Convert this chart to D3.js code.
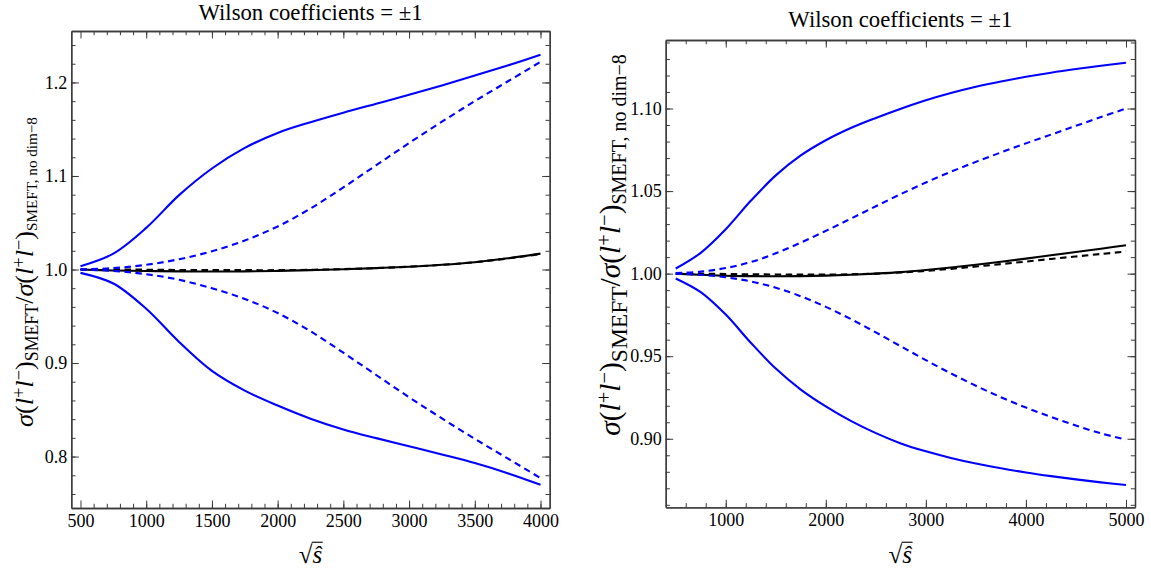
<!DOCTYPE html>
<html><head><meta charset="utf-8">
<script src="https://cdn.jsdelivr.net/npm/d3@7"></script>
<style>
body{margin:0;background:#fff}
svg{display:block}
text{font-family:"Liberation Serif","Times New Roman",serif;fill:#000}
</style>
</head><body>
<svg id="chart" width="1151" height="575"></svg>
<script>
// ---------------- data ----------------
const titleText = "Wilson coefficients = \u00b11";

// Left panel (sqrt(s-hat) from 500 to 4000)
const xLeft = [500,750,1000,1250,1500,1750,2000,2250,2500,2750,3000,3250,3500,3750,4000];
const leftBlueSolidUp   = [1.0035,1.0170,1.0445,1.0795,1.1080,1.1300,1.1460,1.1575,1.1677,1.1772,1.1868,1.1968,1.2073,1.2182,1.2295];
const leftBlueDashUp    = [1.0000,1.0015,1.0050,1.0110,1.0195,1.0310,1.0460,1.0652,1.0878,1.1115,1.1352,1.1580,1.1800,1.2010,1.2220];
const leftBlueSolidDown = [0.9964,0.9850,0.9580,0.9226,0.8916,0.8705,0.8545,0.8405,0.8290,0.8197,0.8110,0.8022,0.7930,0.7822,0.7698];
const leftBlueDashDown  = [1.0000,0.9985,0.9950,0.9890,0.9800,0.9685,0.9535,0.9340,0.9110,0.8872,0.8635,0.8408,0.8190,0.7980,0.7770];
const leftBlackSolid    = [1.0000,0.9990,0.9984,0.9980,0.9978,0.9980,0.9985,0.9993,1.0003,1.0015,1.0030,1.0050,1.0078,1.0120,1.0170];
const leftBlackDash     = [1.0000,1.0000,0.9998,0.9995,0.9993,0.9993,0.9993,0.9997,1.0004,1.0015,1.0030,1.0050,1.0078,1.0118,1.0165];
const leftXTicks = [500,1000,1500,2000,2500,3000,3500,4000];
const leftYTicks = [0.8,0.9,1.0,1.1,1.2];

// Right panel (sqrt(s-hat) from 500 to 5000)
const xRight = [500,750,1000,1250,1500,1750,2000,2250,2500,2750,3000,3250,3500,3750,4000,4250,4500,4750,5000];
const rightBlueSolidUp   = [1.0031,1.0126,1.0269,1.0441,1.0595,1.0716,1.0808,1.0882,1.0943,1.0999,1.1050,1.1094,1.1132,1.1164,1.1192,1.1217,1.1239,1.1259,1.1277];
const rightBlueDashUp    = [1.0003,1.0012,1.0034,1.0070,1.0123,1.0188,1.0259,1.0333,1.0408,1.0482,1.0552,1.0617,1.0677,1.0734,1.0789,1.0842,1.0895,1.0948,1.1000];
const rightBlueSolidDown = [0.9971,0.9888,0.9752,0.9582,0.9425,0.9298,0.9196,0.9108,0.9034,0.8972,0.8924,0.8884,0.8850,0.8821,0.8796,0.8774,0.8754,0.8736,0.8720];
const rightBlueDashDown  = [1.0000,0.9993,0.9978,0.9953,0.9915,0.9863,0.9799,0.9725,0.9644,0.9560,0.9476,0.9396,0.9321,0.9252,0.9189,0.9132,0.9080,0.9033,0.8995];
const rightBlackSolid    = [1.0000,0.9993,0.9987,0.9985,0.9984,0.9985,0.9988,0.9993,1.0000,1.0009,1.0022,1.0037,1.0054,1.0072,1.0091,1.0111,1.0131,1.0151,1.0172];
const rightBlackDash     = [1.0000,1.0000,0.9998,0.9996,0.9995,0.9994,0.9994,0.9996,1.0000,1.0007,1.0017,1.0029,1.0043,1.0058,1.0073,1.0089,1.0104,1.0119,1.0134];
const rightXTicks = [1000,2000,3000,4000,5000];
const rightYTicks = [0.90,0.95,1.00,1.05,1.10];

// ---------------- drawing ----------------
const svg = d3.select("#chart");
const BLUE = "#0000ff", FRAME = "#3a3a3a";
const SERIF = '"Liberation Serif","Times New Roman",serif';

function range(a, b, s){ const r=[]; for(let v=a; v<=b+1e-9; v+=s) r.push(+v.toFixed(6)); return r; }

const panels = [
  { frame:{l:71.3,r:549.7,t:31,b:508}, xDom:[430,4070], yDom:[0.745,1.255],
    xs:xLeft, xMaj:leftXTicks, xMin:range(600,4000,100), yMaj:leftYTicks, yMin:range(0.76,1.24,0.02),
    yFmt:d3.format(".1f"), titleY:20.2, labelX:25, labelCY:272, labelLen:310, subScale:0.68,
    series:[
      {y:leftBlackSolid, c:"#000", dash:null},
      {y:leftBlackDash, c:"#000", dash:"6.5,4.5"},
      {y:leftBlueSolidUp, c:BLUE, dash:null},
      {y:leftBlueSolidDown, c:BLUE, dash:null},
      {y:leftBlueDashUp, c:BLUE, dash:"6.5,4.5"},
      {y:leftBlueDashDown, c:BLUE, dash:"6.5,4.5"}
    ]},
  { frame:{l:665.7,r:1135,t:40,b:507.3}, xDom:[400,5090], yDom:[0.8585,1.1415],
    xs:xRight, xMaj:rightXTicks, xMin:range(600,5000,200), yMaj:rightYTicks, yMin:range(0.86,1.14,0.01),
    yFmt:d3.format(".2f"), titleY:26.5, labelX:611, labelCY:245, labelLen:382, subScale:0.8,
    series:[
      {y:rightBlackSolid, c:"#000", dash:null},
      {y:rightBlackDash, c:"#000", dash:"6.5,4.5"},
      {y:rightBlueSolidUp, c:BLUE, dash:null},
      {y:rightBlueSolidDown, c:BLUE, dash:null},
      {y:rightBlueDashUp, c:BLUE, dash:"6.5,4.5"},
      {y:rightBlueDashDown, c:BLUE, dash:"6.5,4.5"}
    ]}
];

panels.forEach(p => {
  const f = p.frame;
  const x = d3.scaleLinear().domain(p.xDom).range([f.l, f.r]);
  const y = d3.scaleLinear().domain(p.yDom).range([f.b, f.t]);
  const g = svg.append("g");

  const cid = "clip" + Math.round(f.l);
  svg.append("clipPath").attr("id", cid).append("rect")
    .attr("x", f.l).attr("y", f.t).attr("width", f.r - f.l).attr("height", f.b - f.t);

  // curves
  const line = d3.line().x((d,i)=>x(p.xs[i])).y(d=>y(d)).curve(d3.curveCatmullRom.alpha(0.5));
  const cg = g.append("g").attr("clip-path", `url(#${cid})`);
  p.series.forEach(s => {
    cg.append("path").attr("d", line(s.y)).attr("fill","none")
      .attr("stroke", s.c).attr("stroke-width", 2.1)
      .attr("stroke-dasharray", s.dash).attr("stroke-linecap","butt");
  });

  const styleAxis = (ax) => {
    ax.selectAll("path.domain").attr("stroke", FRAME).attr("stroke-width", 1.3);
    ax.selectAll(".tick line").attr("stroke", FRAME).attr("stroke-width", 1);
    ax.selectAll(".tick text").style("font-family", SERIF)
      .style("font-size", "18px").attr("fill", "#000");
  };

  // minor ticks
  [
    [d3.axisBottom(x).tickValues(p.xMin), `translate(0,${f.b})`],
    [d3.axisTop(x).tickValues(p.xMin), `translate(0,${f.t})`],
    [d3.axisLeft(y).tickValues(p.yMin), `translate(${f.l},0)`],
    [d3.axisRight(y).tickValues(p.yMin), `translate(${f.r},0)`]
  ].forEach(([a, tr]) => {
    const ax = g.append("g").attr("transform", tr)
      .call(a.tickSize(-4.2).tickSizeOuter(0).tickFormat(""));
    styleAxis(ax);
  });
  // major ticks + labels
  styleAxis(g.append("g").attr("transform", `translate(0,${f.b})`)
    .call(d3.axisBottom(x).tickValues(p.xMaj).tickSize(-7.5).tickSizeOuter(0).tickPadding(6).tickFormat(d3.format("d"))));
  styleAxis(g.append("g").attr("transform", `translate(0,${f.t})`)
    .call(d3.axisTop(x).tickValues(p.xMaj).tickSize(-7.5).tickSizeOuter(0).tickFormat("")));
  styleAxis(g.append("g").attr("transform", `translate(${f.l},0)`)
    .call(d3.axisLeft(y).tickValues(p.yMaj).tickSize(-7.5).tickSizeOuter(0).tickPadding(4).tickFormat(p.yFmt)));
  styleAxis(g.append("g").attr("transform", `translate(${f.r},0)`)
    .call(d3.axisRight(y).tickValues(p.yMaj).tickSize(-7.5).tickSizeOuter(0).tickFormat("")));

  // title
  g.append("text").attr("x", (f.l + f.r)/2).attr("y", p.titleY)
    .attr("text-anchor","middle").style("font-family", SERIF).style("font-size","22.5px")
    .attr("textLength", 224).attr("lengthAdjust", "spacingAndGlyphs").text(titleText);

  // x label: sqrt(s-hat)
  const cx = (f.l + f.r)/2, xfs = 25, xby = 563;
  const xl = g.append("text").attr("x", cx).attr("y", xby).attr("text-anchor","middle")
    .style("font-family", SERIF).style("font-size", xfs + "px");
  xl.append("tspan").text("\u221a");
  xl.append("tspan").style("font-style","italic").text("\u015d");
  const n = xl.node();
  const e0 = n.getExtentOfChar(0), e1 = n.getExtentOfChar(1);
  g.append("line").attr("x1", e0.x + e0.width - 0.8).attr("x2", e1.x + e1.width + 0.5)
    .attr("y1", xby - xfs*0.83).attr("y2", xby - xfs*0.83)
    .attr("stroke","#000").attr("stroke-width", 1.1);

  // y label
  const base = 20;
  const yl = g.append("text").attr("text-anchor","middle").style("font-family", SERIF).style("font-size", base + "px");
  const addSigma = () => {
    yl.append("tspan").style("font-style","italic").text("\u03c3");
    yl.append("tspan").text("(");
    yl.append("tspan").style("font-style","italic").text("l");
    yl.append("tspan").attr("dy","-0.45em").style("font-size","0.7em").text("+");
    yl.append("tspan").attr("dy","0.315em").style("font-style","italic").text("l");
    yl.append("tspan").attr("dy","-0.45em").style("font-size","0.7em").text("\u2212");
    yl.append("tspan").attr("dy","0.315em").text(")");
  };
  addSigma();
  yl.append("tspan").attr("dy","0.3em").style("font-size", p.subScale + "em").text("SMEFT");
  yl.append("tspan").attr("dy", (-0.3*p.subScale) + "em").text("/");
  addSigma();
  yl.append("tspan").attr("dy","0.3em").style("font-size", (p.subScale*0.85) + "em").text("SMEFT, no dim\u22128");
  const L = yl.node().getComputedTextLength();
  const fs = base * p.labelLen / L;
  yl.style("font-size", fs + "px")
    .attr("transform", `translate(${p.labelX + 0.3*fs},${p.labelCY}) rotate(-90)`);
});
</script>
</body></html>
